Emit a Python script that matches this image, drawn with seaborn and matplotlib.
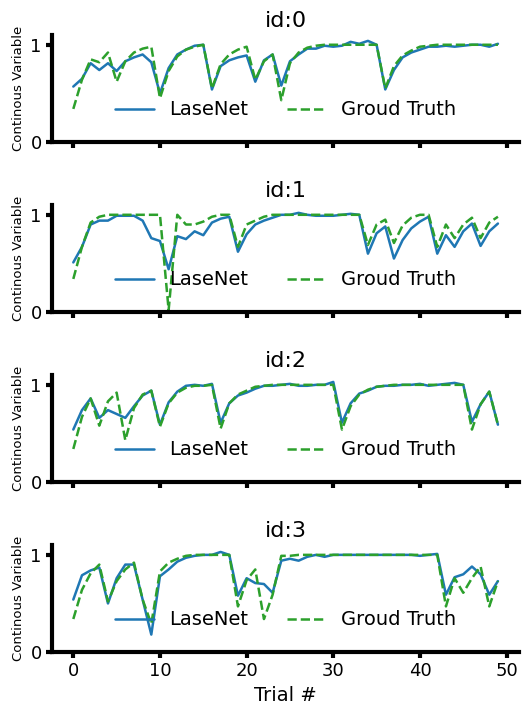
import matplotlib
matplotlib.use("Agg")
import matplotlib.pyplot as plt
import seaborn as sns

# trial index shared by all four panels
trials = list(range(50))

# id:0
lasenet_0 = [0.57, 0.65, 0.81, 0.74, 0.81, 0.73, 0.83, 0.87, 0.90, 0.82,
             0.50, 0.76, 0.90, 0.95, 0.99, 1.00, 0.54, 0.78, 0.84, 0.87,
             0.89, 0.62, 0.84, 0.90, 0.58, 0.83, 0.90, 0.96, 0.96, 0.99,
             0.98, 0.99, 1.03, 1.01, 1.04, 1.00, 0.54, 0.74, 0.87, 0.92,
             0.95, 0.98, 0.98, 0.99, 0.98, 0.99, 1.00, 1.00, 0.98, 1.01]
truth_0 = [0.34, 0.64, 0.85, 0.82, 0.92, 0.62, 0.83, 0.92, 0.96, 0.98,
           0.45, 0.73, 0.88, 0.95, 0.98, 1.00, 0.55, 0.80, 0.90, 0.95,
           0.98, 0.64, 0.83, 0.90, 0.43, 0.81, 0.92, 0.97, 0.99, 1.00,
           1.00, 1.00, 1.00, 1.00, 1.00, 1.00, 0.55, 0.78, 0.89, 0.94,
           0.98, 0.99, 1.00, 1.00, 1.00, 1.00, 1.00, 1.00, 1.00, 1.00]

# id:1
lasenet_1 = [0.51, 0.67, 0.90, 0.94, 0.94, 0.99, 0.99, 0.99, 0.94, 0.76,
             0.73, 0.44, 0.78, 0.75, 0.83, 0.79, 0.92, 0.96, 0.98, 0.62,
             0.80, 0.90, 0.94, 0.97, 1.00, 1.00, 1.02, 1.00, 0.99, 0.99,
             0.99, 1.00, 1.01, 1.00, 0.60, 0.81, 0.88, 0.55, 0.74, 0.86,
             0.93, 0.98, 0.60, 0.79, 0.67, 0.83, 0.91, 0.68, 0.83, 0.91]
truth_1 = [0.34, 0.67, 0.92, 0.98, 1.00, 1.00, 1.00, 1.00, 1.00, 1.00,
           1.00, 0.02, 1.00, 0.90, 0.90, 0.93, 0.98, 1.00, 1.00, 0.67,
           0.90, 0.94, 0.98, 1.00, 1.00, 1.00, 1.00, 1.00, 1.00, 1.00,
           1.00, 1.00, 1.00, 1.00, 0.69, 0.90, 0.95, 0.71, 0.89, 0.97,
           1.00, 1.00, 0.67, 0.90, 0.76, 0.90, 0.97, 0.76, 0.92, 0.98]

# id:2
lasenet_2 = [0.54, 0.74, 0.86, 0.66, 0.74, 0.70, 0.66, 0.78, 0.89, 0.94,
             0.59, 0.82, 0.93, 0.99, 1.00, 0.99, 1.01, 0.61, 0.81, 0.89,
             0.92, 0.96, 0.99, 0.99, 1.00, 1.01, 0.99, 0.99, 1.00, 1.00,
             1.03, 0.61, 0.81, 0.91, 0.94, 0.98, 0.99, 0.99, 1.00, 1.00,
             1.01, 0.99, 1.00, 1.01, 1.02, 1.00, 0.62, 0.80, 0.93, 0.59]
truth_2 = [0.34, 0.67, 0.86, 0.58, 0.83, 0.92, 0.43, 0.76, 0.90, 0.94,
           0.57, 0.81, 0.92, 0.97, 0.99, 0.99, 1.00, 0.55, 0.81, 0.90,
           0.94, 0.98, 0.99, 1.00, 1.00, 1.00, 1.00, 1.00, 1.00, 1.00,
           1.00, 0.54, 0.78, 0.90, 0.95, 0.98, 0.99, 1.00, 1.00, 1.00,
           1.00, 1.00, 1.00, 1.00, 1.00, 1.00, 0.54, 0.80, 0.93, 0.59]

# id:3
lasenet_3 = [0.54, 0.79, 0.84, 0.87, 0.50, 0.76, 0.90, 0.90, 0.54, 0.18,
             0.78, 0.85, 0.93, 0.97, 0.99, 1.00, 1.00, 1.03, 1.00, 0.58,
             0.76, 0.71, 0.70, 0.61, 0.94, 0.96, 0.94, 0.98, 1.00, 0.98,
             1.00, 1.00, 1.00, 1.00, 1.00, 1.00, 1.00, 1.00, 1.00, 1.00,
             0.99, 1.00, 1.01, 0.59, 0.77, 0.80, 0.88, 0.80, 0.59, 0.73]
truth_3 = [0.34, 0.64, 0.81, 0.90, 0.52, 0.73, 0.85, 0.92, 0.54, 0.29,
           0.83, 0.92, 0.96, 0.99, 1.00, 1.00, 1.00, 1.00, 1.00, 0.47,
           0.74, 0.85, 0.34, 0.59, 0.99, 0.99, 1.00, 1.00, 1.00, 1.00,
           1.00, 1.00, 1.00, 1.00, 1.00, 1.00, 1.00, 1.00, 1.00, 1.00,
           1.00, 1.00, 1.00, 0.47, 0.76, 0.61, 0.76, 0.88, 0.47, 0.73]

lasenet = [lasenet_0, lasenet_1, lasenet_2, lasenet_3]
truth = [truth_0, truth_1, truth_2, truth_3]

sns.set_style("ticks")
plt.rcParams['font.family'] = ['DejaVu Sans']
# plain black text and axes, like the original
for key in ['text.color', 'axes.labelcolor', 'xtick.color', 'ytick.color', 'axes.edgecolor']:
    plt.rcParams[key] = 'black'

fig, axes = plt.subplots(4, 1, figsize=(5.26, 7.15), dpi=100, sharex=True)
fig.subplots_adjust(left=0.099, right=0.987, top=0.951, bottom=0.088, hspace=0.59)

for k, ax in enumerate(axes):
    sns.lineplot(x=trials, y=lasenet[k], ax=ax, color='#1f77b4', lw=1.8, label='LaseNet')
    sns.lineplot(x=trials, y=truth[k], ax=ax, color='#2ca02c', lw=1.8,
                 linestyle='--', label='Groud Truth')
    ax.set_ylim(0, 1.1)
    ax.set_yticks([0, 1])
    ax.set_title(f'id:{k}', fontsize=16)
    ax.set_ylabel('Continous Variable', fontsize=9.5)
    ax.legend(loc='center', bbox_to_anchor=(0.5, 0.30), ncol=2, frameon=False, fontsize=14)
    sns.despine(ax=ax)
    for s in ['left', 'bottom']:
        ax.spines[s].set_linewidth(3)
    ax.tick_params(width=3, length=4, labelsize=13)

axes[-1].set_xticks([0, 10, 20, 30, 40, 50])
axes[-1].set_xlabel('Trial #', fontsize=14)

fig.savefig('out.png', dpi=100)
